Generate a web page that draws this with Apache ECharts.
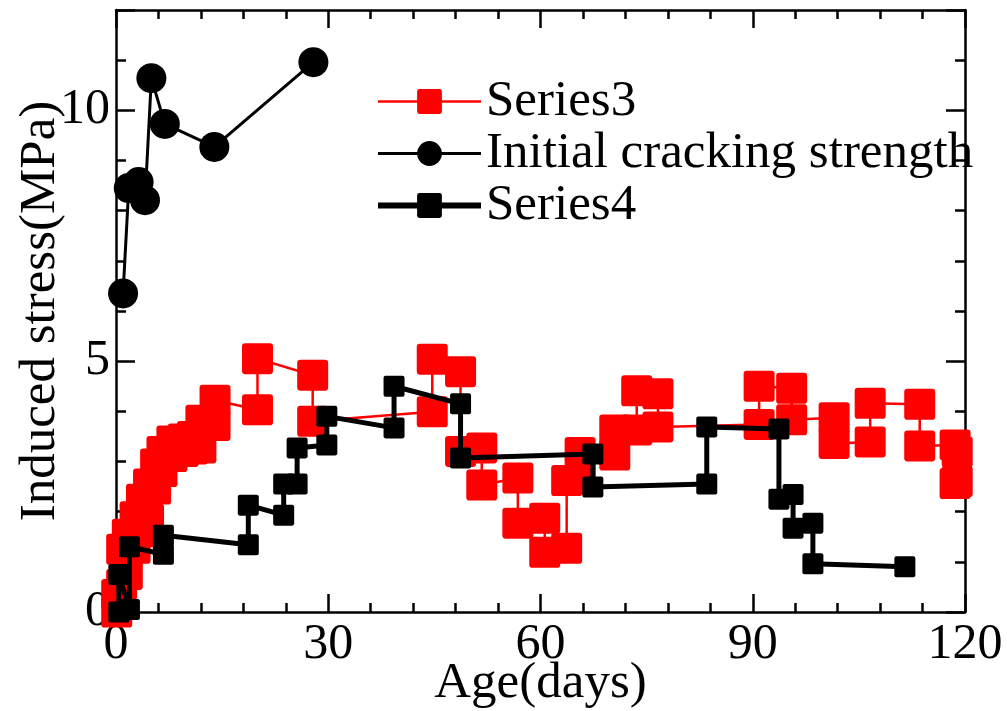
<!DOCTYPE html>
<html>
<head>
<meta charset="utf-8">
<script src="https://cdn.jsdelivr.net/npm/echarts@6/dist/echarts.min.js"></script>
<style>
  html, body { margin: 0; padding: 0; background: #fff; }
  #chart { width: 1007px; height: 711px; }
</style>
</head>
<body>
<div id="chart"></div>
<script>
// Induced stress measurements, paired readings (low/high) per age
const series3Days = [0.1, 0.1, 0.8, 0.8, 1.6, 1.6, 2.7, 2.7, 3.6, 3.6, 4.6, 4.6, 5.6, 5.6, 6.5, 6.5,
  7.9, 7.9, 9.5, 9.5, 10.8, 10.8, 12.0, 12.0, 14.0, 14.0, 20.0, 20.0, 27.8, 27.8, 44.7, 44.7,
  48.7, 48.7, 51.7, 51.7, 56.8, 56.8, 60.6, 60.6, 63.7, 63.7, 65.6, 65.6, 70.5, 70.5, 73.6, 73.6,
  76.6, 76.6, 90.9, 90.9, 95.5, 95.5, 101.5, 101.5, 106.6, 106.6, 113.6, 113.6, 118.6, 118.6, 118.9, 118.9];
const series3Stress = [0.0, 0.35, 0.55, 1.25, 0.75, 1.55, 1.27, 1.9, 1.6, 2.25, 1.85, 2.55, 2.45, 2.95, 2.8, 3.2,
  3.1, 3.41, 3.2, 3.45, 3.25, 3.5, 3.27, 3.82, 3.72, 4.22, 4.03, 5.05, 4.72, 3.8, 3.99, 5.04,
  4.79, 3.2, 3.27, 2.53, 2.67, 1.77, 1.87, 1.19, 1.27, 2.62, 2.65, 3.18, 3.13, 3.63, 3.63, 4.41,
  4.35, 3.69, 3.74, 4.5, 4.46, 3.83, 3.87, 3.36, 3.39, 4.16, 4.14, 3.31, 3.33, 2.56, 2.6, 3.19];

const crackDays = [1.0, 1.8, 3.2, 4.1, 5.0, 6.9, 13.9, 27.9];
const crackStress = [6.35, 8.45, 8.57, 8.21, 10.64, 9.73, 9.27, 10.96];

const series4Days = [0.4, 0.4, 1.9, 1.9, 6.7, 6.7, 18.7, 18.7, 23.7, 23.7, 25.6, 25.6, 29.8, 29.8,
  39.3, 39.3, 48.7, 48.7, 67.4, 67.4, 83.5, 83.5, 93.7, 93.7, 95.7, 95.7, 98.5, 98.5, 111.5];
const series4Stress = [0.0, 0.75, 0.05, 1.3, 1.15, 1.53, 1.34, 2.13, 1.93, 2.55, 2.55, 3.27, 3.33, 3.9,
  3.67, 4.5, 4.15, 3.07, 3.15, 2.49, 2.55, 3.69, 3.65, 2.25, 2.34, 1.67, 1.77, 0.96, 0.9];

const xTicks = [0, 30, 60, 90, 120];
const yTicks = [0, 5, 10];

const zip = (xs, ys) => xs.map((x, i) => [x, ys[i]]);

const FONT = '"Liberation Serif", "Times New Roman", serif';
const AX = { color: '#000', width: 2.5 };
// square marker with slightly rounded corners
const SQUARE = 'path://M1,0H9Q10,0 10,1V9Q10,10 9,10H1Q0,10 0,9V1Q0,0 1,0Z';

function xAx(pos, labels) {
  return {
    type: 'value', position: pos, min: 0, max: 120, interval: 30,
    axisLine: { show: true, onZero: false, lineStyle: AX },
    axisTick: { show: true, inside: true, length: 18, lineStyle: AX },
    minorTick: { show: true, splitNumber: 5, length: 9, lineStyle: AX },
    splitLine: { show: false },
    axisLabel: labels ? {
      show: true, margin: 8, fontFamily: FONT, fontSize: 50, color: '#000',
      formatter: v => xTicks.includes(v) ? String(v) : ''
    } : { show: false },
    name: labels ? 'Age(days)' : '',
    nameLocation: 'middle', nameGap: 46, nameMoveOverlap: false,
    nameTextStyle: { fontFamily: FONT, fontSize: 51, color: '#000' }
  };
}

function yAx(pos, interval, len, line, labels) {
  return {
    type: 'value', position: pos, min: 0, max: 12, interval: interval,
    axisLine: { show: line, onZero: false, lineStyle: AX },
    axisTick: { show: true, inside: true, length: len, lineStyle: AX },
    splitLine: { show: false },
    axisLabel: labels ? {
      show: true, margin: 6, fontFamily: FONT, fontSize: 50, color: '#000',
      formatter: v => yTicks.includes(v) ? String(v) : ''
    } : { show: false },
    name: labels ? 'Induced stress(MPa)' : '',
    nameLocation: 'middle', nameGap: 50, nameRotate: 90, nameMoveOverlap: false,
    nameTextStyle: { fontFamily: FONT, fontSize: 51, color: '#000' }
  };
}

const chart = echarts.init(document.getElementById('chart'), null, { renderer: 'canvas' });
chart.setOption({
  animation: false,
  backgroundColor: '#fff',
  grid: { left: 116, right: 42, top: 10, bottom: 99, containLabel: false, outerBoundsMode: 'none' },
  xAxis: [xAx('bottom', true), xAx('top', false)],
  yAxis: [
    yAx('left', 5, 19, true, true),
    yAx('left', 1, 10, false, false),
    yAx('right', 5, 19, true, false),
    yAx('right', 1, 10, false, false)
  ],
  legend: {
    left: 370, top: 71, orient: 'vertical',
    itemWidth: 103, itemHeight: 31, itemGap: 1,
    textStyle: { fontFamily: FONT, fontSize: 51, color: '#000' },
    data: [
      { name: 'Series3', lineStyle: { color: '#ff0000', width: 2.5 } },
      { name: 'Initial cracking strength', lineStyle: { color: '#000', width: 3 } },
      { name: 'Series4', lineStyle: { color: '#000', width: 6 } }
    ]
  },
  series: [
    {
      name: 'Series3', type: 'line', clip: false, z: 2,
      data: zip(series3Days, series3Stress),
      symbol: SQUARE, symbolSize: 31,
      lineStyle: { color: '#ff0000', width: 2.5 },
      itemStyle: { color: '#ff0000' }
    },
    {
      name: 'Series4', type: 'line', clip: false, z: 3,
      data: zip(series4Days, series4Stress),
      symbol: SQUARE, symbolSize: 21,
      lineStyle: { color: '#000', width: 5 },
      itemStyle: { color: '#000' }
    },
    {
      name: 'Initial cracking strength', type: 'line', clip: false, z: 4,
      data: zip(crackDays, crackStress),
      symbol: 'circle', symbolSize: 30,
      lineStyle: { color: '#000', width: 3 },
      itemStyle: { color: '#000' }
    }
  ]
});
</script>
</body>
</html>
